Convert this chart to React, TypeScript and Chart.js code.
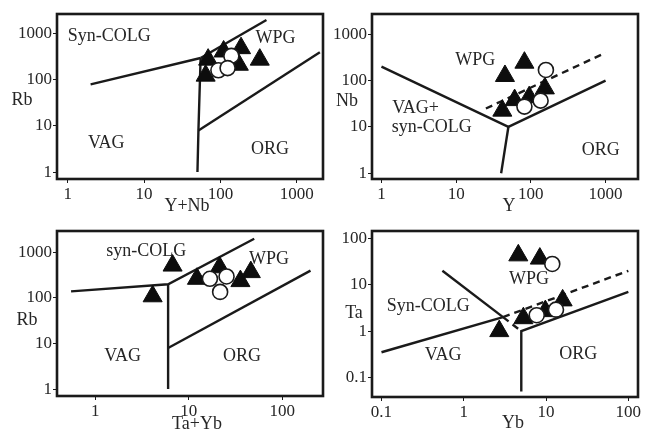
import { useEffect, useRef } from "react";
import { Chart, registerables } from "chart.js";

Chart.register(...registerables);

// ---------- Panel A: Rb vs Y+Nb ----------
const aTriX = [69, 110, 186, 174, 327, 64];
const aTriY = [276, 415, 490, 214, 276, 124];
const aCirX = [139, 94, 124];
const aCirY = [333, 162, 181];
const aXTicks = [1, 10, 100, 1000];
const aYTicks = [1, 10, 100, 1000];
const aSolid = [
  [[2, 80], [55, 300]],
  [[55, 300], [51.5, 8], [50, 1]],
  [[55, 300], [400, 2000]],
  [[51.5, 8], [2000, 400]],
];
const aDashed: number[][][] = [];
const aFields = [
  { t: "Syn-COLG", x: 3.5, y: 870 },
  { t: "WPG", x: 525, y: 820 },
  { t: "VAG", x: 3.2, y: 4.2 },
  { t: "ORG", x: 445, y: 3.1 },
];

// ---------- Panel B: Nb vs Y ----------
const bTriX = [45, 82, 41.5, 60.6, 95, 154];
const bTriY = [126, 244, 22.5, 38, 44, 68];
const bCirX = [159, 82, 135];
const bCirY = [170, 27.5, 37];
const bXTicks = [1, 10, 100, 1000];
const bYTicks = [1, 10, 100, 1000];
const bSolid = [
  [[1, 200], [50, 10], [1000, 100]],
  [[50, 10], [40, 1]],
];
const bDashed = [[[25, 25], [1000, 400]]];
const bFields = [
  { t: "WPG", x: 18, y: 280 },
  { t: "VAG+", x: 2.86, y: 25 },
  { t: "syn-COLG", x: 4.72, y: 9.8 },
  { t: "ORG", x: 860, y: 3.1 },
];

// ---------- Panel C: Rb vs Ta+Yb ----------
const cTriX = [6.7, 4.1, 12.2, 21.3, 35.6, 46];
const cTriY = [515, 109, 264, 473, 235, 370];
const cCirX = [16.8, 25.3, 21.6];
const cCirY = [264, 297, 136];
const cXTicks = [1, 10, 100];
const cYTicks = [1, 10, 100, 1000];
const cSolid = [
  [[0.55, 140], [6, 200], [50, 2000]],
  [[6, 200], [6, 8], [6, 1]],
  [[6, 8], [200, 400]],
];
const cDashed: number[][][] = [];
const cFields = [
  { t: "syn-COLG", x: 3.5, y: 1040 },
  { t: "WPG", x: 72, y: 720 },
  { t: "VAG", x: 1.96, y: 5.2 },
  { t: "ORG", x: 37, y: 5.3 },
];

// ---------- Panel D: Ta vs Yb ----------
const dTriX = [4.6, 8.4, 2.7, 5.3, 9.8, 15.9];
const dTriY = [43, 36.6, 1.0, 1.9, 2.7, 4.6];
const dCirX = [11.9, 7.7, 13.2];
const dCirY = [28, 2.2, 2.9];
const dXTicks = [0.1, 1, 10, 100];
const dYTicks = [0.1, 1, 10, 100];
const dSolid = [
  [[0.1, 0.35], [3, 2]],
  [[0.55, 20], [3, 2]],
  [[5, 0.05], [5, 1], [100, 7]],
];
const dDashed = [
  [[3, 2], [100, 20]],
  [[3, 2], [5, 1]],
];
const dFields = [
  { t: "Syn-COLG", x: 0.37, y: 3.5 },
  { t: "WPG", x: 6.2, y: 13.4 },
  { t: "VAG", x: 0.56, y: 0.3 },
  { t: "ORG", x: 24.6, y: 0.32 },
];

const FONT = "'Liberation Serif', 'Times New Roman', serif";
const INK = "#1a1a1a";
const TXT = "#262626";

type Panel = {
  left: number; top: number; w: number; h: number;
  yW: number; xH: number; padTop: number; padRight: number;
  xMin: number; xMax: number; yMin: number; yMax: number;
  xTicks: number[]; yTicks: number[];
  triX: number[]; triY: number[]; cirX: number[]; cirY: number[];
  solid: number[][][]; dashed: number[][][];
  fields: { t: string; x: number; y: number }[];
  xTitle: string; yTitle: string;
  xTitlePos: [number, number]; yTitlePos: [number, number];
};

const panels: Panel[] = [
  {
    left: 0, top: 0, w: 335, h: 214, yW: 57, xH: 35, padTop: 14, padRight: 3,
    xMin: 0.726, xMax: 2198, yMin: 0.706, yMax: 2704,
    xTicks: aXTicks, yTicks: aYTicks, triX: aTriX, triY: aTriY, cirX: aCirX, cirY: aCirY,
    solid: aSolid, dashed: aDashed, fields: aFields,
    xTitle: "Y+Nb", yTitle: "Rb", xTitlePos: [187, 206], yTitlePos: [22, 100],
  },
  {
    left: 325, top: 0, w: 325, h: 214, yW: 47, xH: 35, padTop: 14, padRight: 6,
    xMin: 0.747, xMax: 2718, yMin: 0.753, yMax: 2741,
    xTicks: bXTicks, yTicks: bYTicks, triX: bTriX, triY: bTriY, cirX: bCirX, cirY: bCirY,
    solid: bSolid, dashed: bDashed, fields: bFields,
    xTitle: "Y", yTitle: "Nb", xTitlePos: [184, 206], yTitlePos: [22, 101],
  },
  {
    left: 0, top: 214, w: 335, h: 215, yW: 57, xH: 33, padTop: 17, padRight: 3,
    xMin: 0.389, xMax: 272, yMin: 0.705, yMax: 2958,
    xTicks: cXTicks, yTicks: cYTicks, triX: cTriX, triY: cTriY, cirX: cCirX, cirY: cCirY,
    solid: cSolid, dashed: cDashed, fields: cFields,
    xTitle: "Ta+Yb", yTitle: "Rb", xTitlePos: [197, 210], yTitlePos: [27, 106],
  },
  {
    left: 325, top: 214, w: 325, h: 215, yW: 47, xH: 32, padTop: 17, padRight: 6,
    xMin: 0.0767, xMax: 131, yMin: 0.038, yMax: 144,
    xTicks: dXTicks, yTicks: dYTicks, triX: dTriX, triY: dTriY, cirX: dCirX, cirY: dCirY,
    solid: dSolid, dashed: dDashed, fields: dFields,
    xTitle: "Yb", yTitle: "Ta", xTitlePos: [188, 209], yTitlePos: [29, 99],
  },
];

function PanelChart({ p }: { p: Panel }) {
  const ref = useRef<HTMLCanvasElement>(null);
  useEffect(() => {
    const lineSets = [
      ...p.solid.map((seg) => ({ seg, dash: [] as number[] })),
      ...p.dashed.map((seg) => ({ seg, dash: [7, 5] })),
    ].map(({ seg, dash }) => ({
      data: seg.map(([x, y]) => ({ x, y })),
      showLine: true,
      borderColor: INK,
      borderWidth: 2.4,
      borderDash: dash,
      pointRadius: 0,
      fill: false,
      tension: 0,
      order: 2,
    }));
    const overlay = {
      id: "overlay",
      afterDraw(chart: any) {
        const ctx = chart.ctx as CanvasRenderingContext2D;
        const a = chart.chartArea;
        const xs = chart.scales.x;
        const ys = chart.scales.y;
        ctx.save();
        ctx.strokeStyle = INK;
        ctx.lineWidth = 2.6;
        ctx.strokeRect(a.left, a.top, a.right - a.left, a.bottom - a.top);
        ctx.fillStyle = TXT;
        ctx.font = `18px ${FONT}`;
        ctx.textAlign = "center";
        ctx.textBaseline = "middle";
        p.fields.forEach((f) => {
          ctx.fillText(f.t, xs.getPixelForValue(f.x), ys.getPixelForValue(f.y));
        });
        ctx.fillText(p.xTitle, p.xTitlePos[0], p.xTitlePos[1]);
        ctx.fillText(p.yTitle, p.yTitlePos[0], p.yTitlePos[1]);
        ctx.restore();
      },
    };
    const tickFmt = (v: any) => String(Number(v));
    const chart = new Chart(ref.current!, {
      type: "scatter",
      data: {
        datasets: [
          ...lineSets,
          {
            data: p.triX.map((x, i) => ({ x, y: p.triY[i] })),
            pointStyle: "triangle",
            pointRadius: 11,
            backgroundColor: "#0d0d0d",
            borderColor: "#0d0d0d",
            borderWidth: 1,
            order: 1,
          },
          {
            data: p.cirX.map((x, i) => ({ x, y: p.cirY[i] })),
            pointStyle: "circle",
            pointRadius: 7.5,
            backgroundColor: "#fff",
            borderColor: "#1a1a1a",
            borderWidth: 1.6,
            order: 0,
          },
        ] as any,
      },
      options: {
        responsive: false,
        animation: false,
        devicePixelRatio: 1,
        layout: { padding: { top: p.padTop, right: p.padRight, left: 0, bottom: 0 } },
        plugins: { legend: { display: false }, tooltip: { enabled: false } },
        events: [],
        scales: {
          x: {
            type: "logarithmic",
            min: p.xMin,
            max: p.xMax,
            bounds: "data",
            border: { display: false },
            grid: { display: true, drawOnChartArea: false, drawTicks: true, tickLength: 4, color: INK, lineWidth: 1 },
            ticks: { color: TXT, font: { family: FONT, size: 17 }, padding: 1, maxRotation: 0, autoSkip: false, callback: tickFmt },
            afterBuildTicks: (s: any) => { s.ticks = p.xTicks.map((v) => ({ value: v })); },
            afterFit: (s: any) => { s.height = p.xH; s.paddingLeft = 0; s.paddingRight = 0; },
          },
          y: {
            type: "logarithmic",
            min: p.yMin,
            max: p.yMax,
            bounds: "data",
            border: { display: false },
            grid: { display: true, drawOnChartArea: false, drawTicks: true, tickLength: 4, color: INK, lineWidth: 1 },
            ticks: { color: TXT, font: { family: FONT, size: 17 }, padding: 1, autoSkip: false, callback: tickFmt },
            afterBuildTicks: (s: any) => { s.ticks = p.yTicks.map((v) => ({ value: v })); },
            afterFit: (s: any) => { s.width = p.yW; s.paddingTop = 0; s.paddingBottom = 0; },
          },
        } as any,
      },
      plugins: [overlay],
    });
    return () => chart.destroy();
  }, []);
  return (
    <div style={{ position: "absolute", left: p.left, top: p.top, width: p.w, height: p.h }}>
      <canvas ref={ref} width={p.w} height={p.h} style={{ display: "block", width: p.w, height: p.h }} />
    </div>
  );
}

export default function App() {
  return (
    <div style={{ position: "fixed", left: 0, top: 0, width: 650, height: 429, background: "#fff", overflow: "hidden" }}>
      {panels.map((p, i) => (
        <PanelChart key={i} p={p} />
      ))}
    </div>
  );
}
